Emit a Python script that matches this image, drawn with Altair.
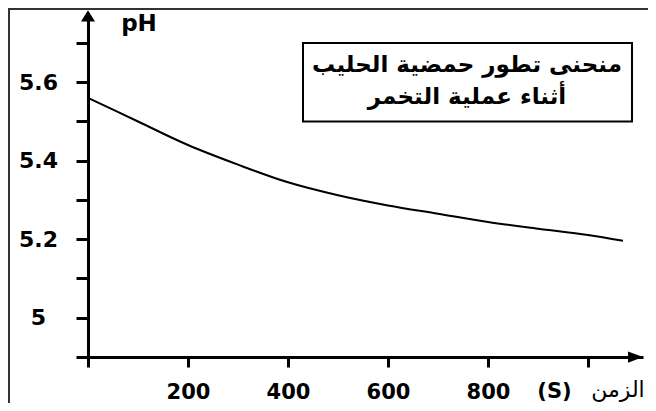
import altair as alt
import pandas as pd

# ---- data ----
time_s = [0, 100, 200, 300, 400, 500, 600, 700, 800, 900, 1000, 1070]
ph_vals = [5.56, 5.50, 5.44, 5.39, 5.345, 5.312, 5.286, 5.265, 5.244, 5.227, 5.211, 5.196]

x_ticks = [0, 200, 400, 600, 800, 1000]
y_ticks = [4.9, 5.0, 5.1, 5.2, 5.3, 5.4, 5.5, 5.6, 5.7]
y_labelled = [5, 5.2, 5.4, 5.6]

title_lines = ["منحنى تطور حمضية الحليب", "أثناء عملية التخمر"]
y_title = "pH"
x_unit = "(S)"
x_word = "الزمن"

X_MAX = 1110
Y_MIN = 4.9
Y_MAX = 5.7764

FONT = "DejaVu Sans"

df = pd.DataFrame({"t": time_s, "ph": ph_vals})

xs = alt.Scale(domain=[0, X_MAX], nice=False, zero=False)
ys = alt.Scale(domain=[Y_MIN, Y_MAX], nice=False, zero=False)

x_axis = alt.Axis(
    values=x_ticks, title=None, grid=False,
    domainColor="black", domainWidth=3, tickColor="black", tickWidth=3, tickSize=10,
    labelExpr="datum.value > 0 && datum.value < 1000 ? format(datum.value, 'd') : ''",
    labelFont=FONT, labelFontWeight="bold", labelFontSize=21, labelColor="black",
    labelBaseline="alphabetic", labelPadding=31,
)
y_axis = alt.Axis(
    values=y_ticks, title=None, grid=False,
    domainColor="black", domainWidth=3, tickColor="black", tickWidth=3, tickSize=12,
    labelExpr="indexof(" + str(y_labelled) + ", datum.value) >= 0 ? format(datum.value, '~g') : ''",
    labelFont=FONT, labelFontWeight="bold", labelFontSize=22, labelColor="black",
    labelAlign="center", labelBaseline="middle", labelPadding=38,
)

line = alt.Chart(df).mark_line(color="black", strokeWidth=2, interpolate="monotone").encode(
    x=alt.X("t:Q", scale=xs, axis=x_axis),
    y=alt.Y("ph:Q", scale=ys, axis=y_axis),
)

x_arrow = alt.Chart(pd.DataFrame({"t": [1095], "ph": [Y_MIN]})).mark_point(
    shape="M-1,-0.75L1,0L-1,0.75Z", filled=True, color="black", opacity=1, size=225
).encode(x=alt.X("t:Q", scale=xs), y=alt.Y("ph:Q", scale=ys))

y_arrow = alt.Chart(pd.DataFrame({"t": [0], "ph": [5.769]})).mark_point(
    shape="M-1,0.8L0,-0.8L1,0.8Z", filled=True, color="black", opacity=1, size=196
).encode(x=alt.X("t:Q", scale=xs), y=alt.Y("ph:Q", scale=ys))

box = alt.Chart(pd.DataFrame({"x": [430], "x2": [1088], "y": [5.5], "y2": [5.7]})).mark_rect(
    fill="white", stroke="black", strokeWidth=2
).encode(x=alt.X("x:Q", scale=xs), x2="x2:Q", y=alt.Y("y:Q", scale=ys), y2="y2:Q")

title_df = pd.DataFrame({"t": [758, 758], "ph": [5.644, 5.562], "txt": title_lines})
title_txt = alt.Chart(title_df).mark_text(
    font=FONT, fontSize=23, fontWeight="bold", color="black", align="center", baseline="middle"
).encode(x=alt.X("t:Q", scale=xs), y=alt.Y("ph:Q", scale=ys), text="txt:N")

ph_txt = alt.Chart(pd.DataFrame({"t": [102], "ph": [5.748], "txt": [y_title]})).mark_text(
    font=FONT, fontSize=23, fontWeight="bold", color="black", align="center", baseline="middle"
).encode(x=alt.X("t:Q", scale=xs), y=alt.Y("ph:Q", scale=ys), text="txt:N")

unit_txt = alt.Chart(pd.DataFrame({"t": [933], "ph": [4.812], "txt": [x_unit]})).mark_text(
    font=FONT, fontSize=21, fontWeight="bold", color="black", align="center", baseline="middle"
).encode(x=alt.X("t:Q", scale=xs), y=alt.Y("ph:Q", scale=ys), text="txt:N")

word_txt = alt.Chart(pd.DataFrame({"t": [1060], "ph": [4.815], "txt": [x_word]})).mark_text(
    font=FONT, fontSize=22, color="black", align="center", baseline="middle"
).encode(x=alt.X("t:Q", scale=xs), y=alt.Y("ph:Q", scale=ys), text="txt:N")

frame_left = alt.Chart(pd.DataFrame({"a": [0]})).mark_rule(color="#333333", strokeWidth=2).encode(
    x=alt.value(-79), y=alt.value(-5), y2=alt.value(390)
)
frame_top = alt.Chart(pd.DataFrame({"a": [0]})).mark_rule(color="#333333", strokeWidth=2).encode(
    x=alt.value(-80), x2=alt.value(560), y=alt.value(-4)
)

chart = alt.layer(
    frame_left, frame_top, line, box, title_txt, ph_txt, unit_txt, word_txt, x_arrow, y_arrow
).properties(
    width=555, height=344,
    autosize=alt.AutoSizeParams(type="none"),
    padding={"left": 80, "top": 5, "right": 5, "bottom": 46},
    background="white",
).configure_view(strokeWidth=0)

chart.save("out.html", embed_options={"renderer": "svg", "actions": False})
